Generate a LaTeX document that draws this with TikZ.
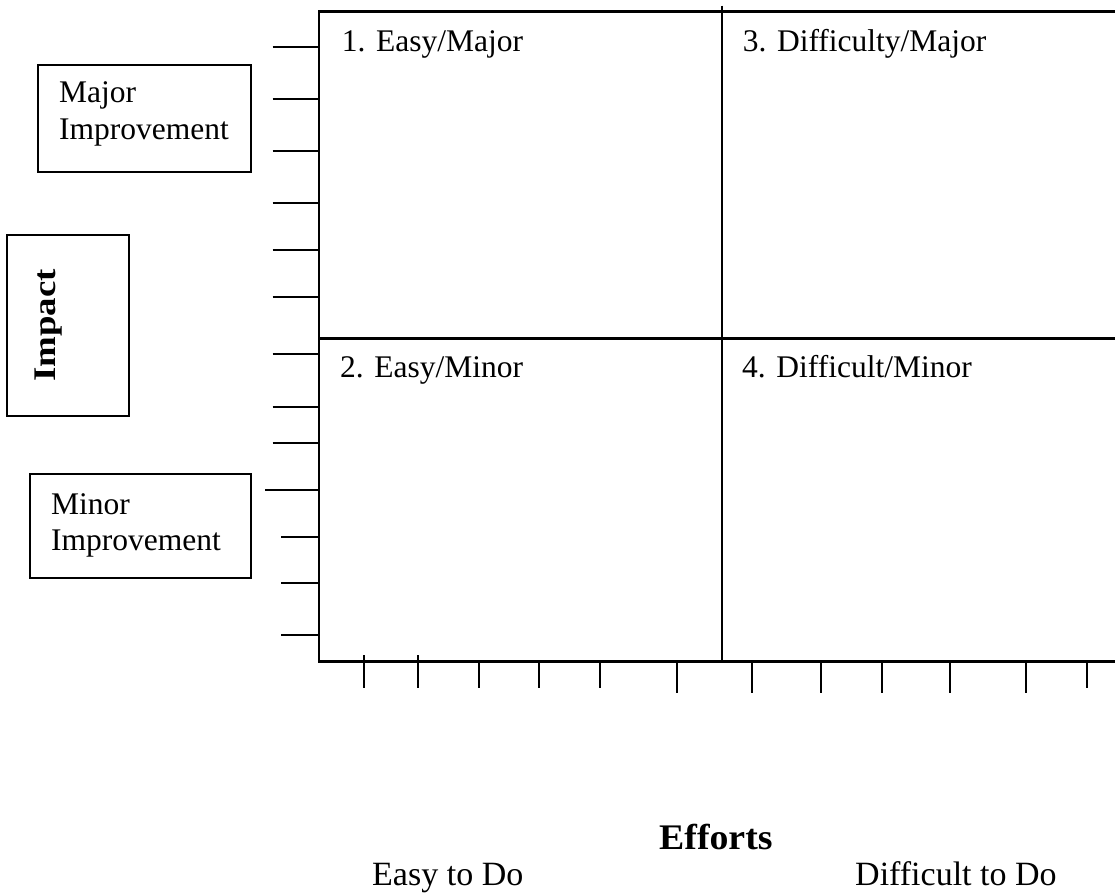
\documentclass[tikz,border=0pt]{standalone}
\usepackage{fontspec}
\setmainfont{Liberation Serif}
\begin{document}
\begin{tikzpicture}[x=1pt, y=-1pt,
  frameline/.style={line width=2.2pt},
  tickline/.style={line width=2pt},
  sidebox/.style={draw, line width=2pt},
  quadlabel/.style={inner sep=0pt, anchor=base west, font=\fontsize{31.5}{36}\selectfont},
  axislabel/.style={inner sep=0pt, anchor=base west}]
\useasboundingbox (0,0) rectangle (1115,893);

% grid frame and quadrant dividers
\coordinate (tl) at (319,11.5);
\coordinate (tr) at (1115,11.5);
\coordinate (bl) at (319,661.5);
\coordinate (br) at (1115,661.5);
\coordinate (ml) at (319,338.5);
\coordinate (mr) at (1115,338.5);
\coordinate (mt) at (721.7,5.7);
\coordinate (mb) at (721.7,661.5);
\draw[frameline] (tr) -- (tl) -- (bl) -- (br);
\draw[frameline] (ml) -- (mr);
\draw[frameline] (mt) -- (mb);

% ticks on the impact axis
\foreach \ty/\tx in {47.3/272.7, 99.5/272.7, 151/272.7, 203/272.7, 250/272.7,
                     297/272.7, 354/272.7, 406.5/272.7, 442.5/272.7, 490/265,
                     536.5/281, 583/281, 635/281}
  \draw[tickline] (\tx,\ty) -- (319,\ty);

% ticks on the effort axis
\foreach \tx/\ta/\tb in {364.3/655/687.7, 417.7/655/687.7, 479/661/687.7,
                         539.3/661/687.7, 600.3/661/687.7, 676.7/661/692.7,
                         752.3/661/692.7, 820.7/661/692.7, 881.7/661/692.7,
                         950/661/692.7, 1026/661/692.7, 1086.7/661/687.7}
  \draw[tickline] (\tx,\ta) -- (\tx,\tb);

% quadrant titles
\node[quadlabel] (q1) at (341.7,52) {1. Easy/Major};
\node[quadlabel] (q2) at (340,377) {2. Easy/Minor};
\node[quadlabel] (q3) at (742.7,52) {3. Difficulty/Major};
\node[quadlabel] (q4) at (742,377) {4. Difficult/Minor};

% side boxes
\draw[sidebox] (37.7,65) rectangle (251,171.7);
\node[quadlabel] (major1) at (59,103) {Major};
\node[quadlabel] (major2) at (59,140) {Improvement};

\draw[sidebox] (7.3,235) rectangle (129.3,416);
\node[inner sep=0pt, rotate=90, font=\bfseries\fontsize{31.5}{36}\selectfont]
  (impact) at (48.6,325.5) {\scalebox{1.17}[1]{Impact}};

\draw[sidebox] (30,474.3) rectangle (251,577.7);
\node[quadlabel] (minor1) at (51,514.3) {Minor};
\node[quadlabel] (minor2) at (51,550) {Improvement};

% effort axis labels
\node[axislabel, font=\bfseries\fontsize{36}{40}\selectfont] (efforts) at (659,849)
  {\scalebox{1.05}[1]{Efforts}};
\node[axislabel, font=\fontsize{34}{40}\selectfont] (easy) at (372,885)
  {Easy to Do};
\node[axislabel, font=\fontsize{34}{40}\selectfont] (hard) at (855,885)
  {Difficult to Do};
\end{tikzpicture}
\end{document}
